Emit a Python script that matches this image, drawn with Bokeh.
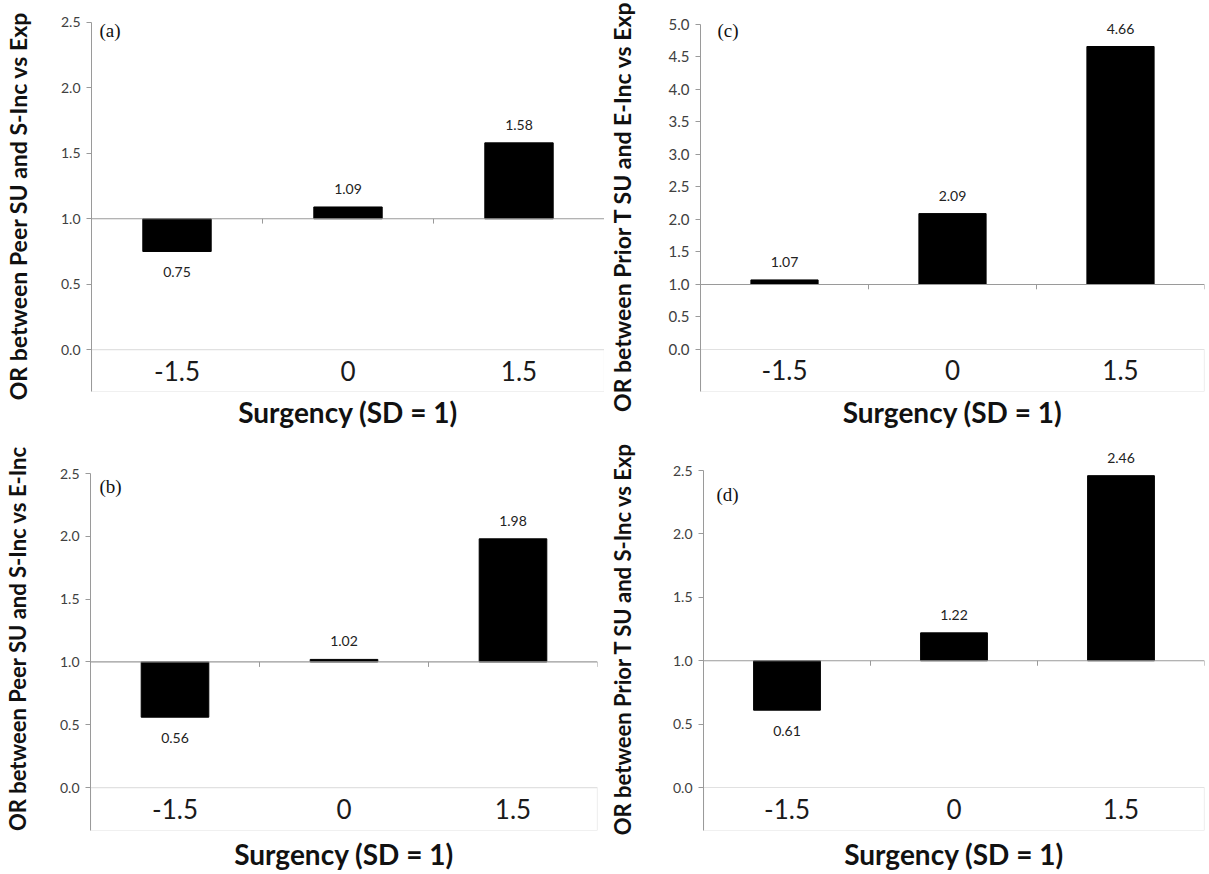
from bokeh.plotting import figure
from bokeh.layouts import column, row
from bokeh.models import (FactorRange, Range1d, FixedTicker, Span, BoxAnnotation,
                          Label, ColumnDataSource, NumeralTickFormatter, Title)
from bokeh.embed import file_html
from bokeh.resources import INLINE
from bokeh.core.properties import value

# ---------------- data ----------------
categories = ["-1.5", "0", "1.5"]
or_a = [0.75, 1.09, 1.58]
or_b = [0.56, 1.02, 1.98]
or_c = [1.07, 2.09, 4.66]
or_d = [0.61, 1.22, 2.46]
ylabel_a = "OR between Peer SU and S-Inc vs Exp"
ylabel_b = "OR between Peer SU and S-Inc vs E-Inc"
ylabel_c = "OR between Prior T SU and E-Inc vs Exp"
ylabel_d = "OR between Prior T SU and S-Inc vs Exp"
ticks_small = [0.0, 0.5, 1.0, 1.5, 2.0, 2.5]
ticks_large = [0.0, 0.5, 1.0, 1.5, 2.0, 2.5, 3.0, 3.5, 4.0, 4.5, 5.0]
panel_tags = ["(a)", "(b)", "(c)", "(d)"]
xlabel = "Surgency (SD = 1)"
reference_or = 1.0

SANS = "Lato"
SERIF = "Liberation Serif"
GRAY = "#9a9a9a"


def make_panel(vals, ylabel, tag, ticks, ymin, yend, width, height, borders, tag_off,
               ylab_size, ylab_standoff, tick_size, title_standoff):
    ymax = ticks[-1]
    p = figure(x_range=FactorRange(factors=categories, range_padding=0),
               y_range=Range1d(ymin, yend),
               width=width, height=height, x_axis_location=None,
               min_border_left=borders[0], min_border_right=borders[1],
               min_border_top=borders[2], min_border_bottom=borders[3],
               output_backend="svg", toolbar_location=None, tools="")
    p.outline_line_color = None
    p.grid.visible = False
    p.background_fill_color = "white"

    # y axis
    ya = p.yaxis[0]
    ya.ticker = FixedTicker(ticks=ticks)
    ya.formatter = NumeralTickFormatter(format="0.0")
    ya.bounds = (ymin, ymax)
    ya.axis_line_color = GRAY
    ya.major_tick_line_color = GRAY
    ya.major_tick_out = 5
    ya.major_tick_in = 0
    ya.minor_tick_line_color = None
    ya.major_label_text_font = SANS
    ya.major_label_text_font_size = tick_size
    ya.major_label_text_color = "#404040"
    ya.major_label_standoff = 6
    ya.axis_label = ylabel
    ya.axis_label_text_font = SANS
    ya.axis_label_text_font_style = "bold"
    ya.axis_label_text_font_size = ylab_size
    ya.axis_label_text_color = "#111111"
    ya.axis_label_standoff = ylab_standoff

    # x-axis title
    p.add_layout(Title(text=xlabel, align="center", text_font=SANS,
                       text_font_size="28px", text_font_style="bold",
                       text_color="#111111", standoff=title_standoff), "below")

    # category box below zero
    p.add_layout(BoxAnnotation(top=0, fill_color=None, line_color=GRAY, line_width=1.2))

    # reference line at OR = 1 with category boundary ticks
    p.add_layout(Span(location=reference_or, dimension="width", line_color=GRAY, line_width=1.2))
    tick_len = 0.013 * (yend - ymin)
    bounds = [i + 1 for i in range(len(categories))]
    p.segment(x0=bounds, x1=bounds, y0=[reference_or] * len(bounds),
              y1=[reference_or - tick_len] * len(bounds), line_color=GRAY, line_width=1)

    # bars
    src = ColumnDataSource(dict(
        cat=categories, val=vals,
        lbl=["%.2f" % v for v in vals],
        off=[-18 if v >= reference_or else 21 for v in vals],
    ))
    p.vbar(x="cat", top="val", bottom=reference_or, width=0.4, source=src,
           fill_color="black", line_color="black")
    p.text(x="cat", y="val", text="lbl", y_offset="off", source=src,
           text_font=value(SANS), text_font_size="14px", text_color="#222222",
           text_align="center", text_baseline="middle")

    # category labels inside the box
    p.text(x=categories, y=[ymin / 2.0] * len(categories), text=categories,
           text_font=value(SANS), text_font_size="26px", text_color="#1a1a1a",
           text_align="center", text_baseline="middle")

    # panel tag
    p.add_layout(Label(x=0, y=ymax, text=tag, x_offset=tag_off[0], y_offset=-tag_off[1],
                       text_font=SERIF, text_font_size="19px", text_color="#111111",
                       text_baseline="top", text_align="left"))
    return p


# top row: shared frame top (20) and bottom (391)
pa = make_panel(or_a, ylabel_a, panel_tags[0], ticks_small, -0.32, 2.515, 604, 440,
                (88, 0, 20, 49), (8, -2), "23px", 26, "14px", 2)
pc = make_panel(or_c, ylabel_c, panel_tags[2], ticks_large, -0.646, 5.06, 603, 440,
                (96, 3, 20, 49), (17, -4), "23px", 30, "15px", 2)
# bottom row: shared frame top (446) and bottom (830)
pb = make_panel(or_b, ylabel_b, panel_tags[1], ticks_small, -0.342, 2.715, 601, 434,
                (88, 4, 6, 44), (9, 2), "22px", 26, "14px", 8)
pd_ = make_panel(or_d, ylabel_d, panel_tags[3], ticks_small, -0.339, 2.69, 606, 434,
                 (102, 3, 6, 44), (13, 13), "22px", 34, "14px", 8)

layout = column(row(pa, pc), row(pb, pd_))
open("out.html", "w").write(file_html(layout, INLINE))
